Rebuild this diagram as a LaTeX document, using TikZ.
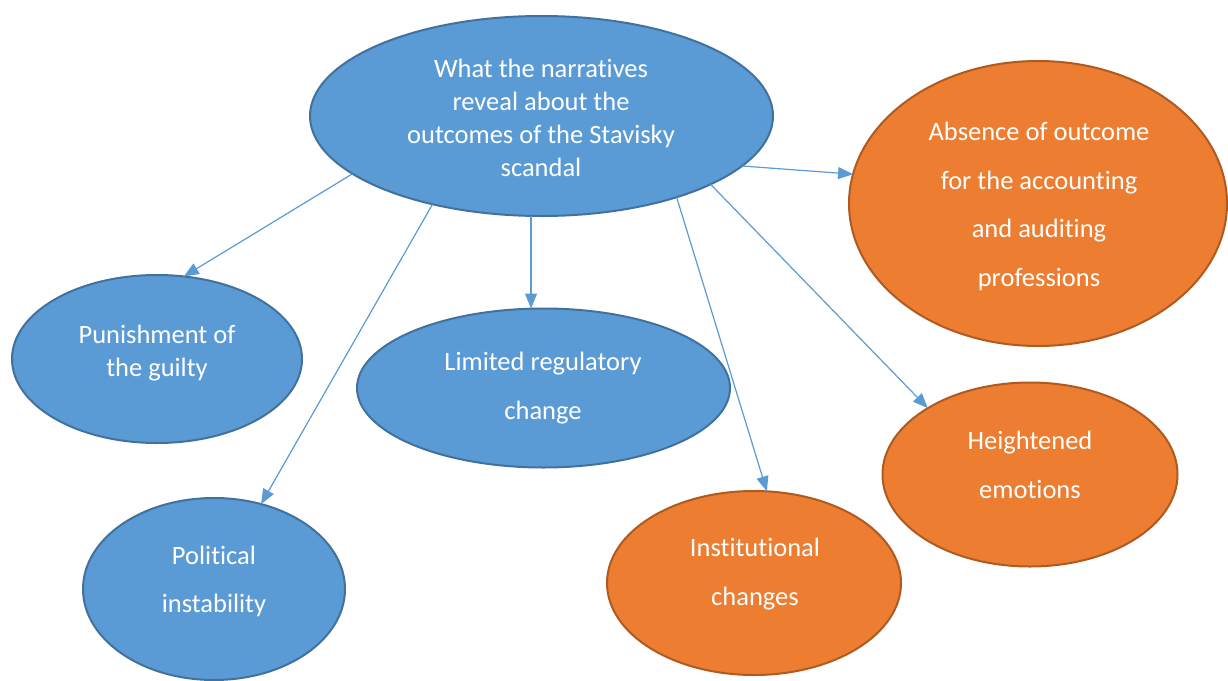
\documentclass[tikz,border=0pt]{standalone}
\usepackage{fontspec}
\setmainfont{Carlito}[Ligatures={NoCommon}]
\usetikzlibrary{shapes.geometric,arrows.meta}
\definecolor{bfill}{HTML}{5B9BD5}
\definecolor{bline}{HTML}{41719C}
\definecolor{ofill}{HTML}{ED7D31}
\definecolor{oline}{HTML}{AE5A21}
\definecolor{arr}{HTML}{5B9BD5}
\tikzset{
  ell/.style={ellipse, inner sep=0pt, outer sep=0pt, line width=2pt},
  blueell/.style={ell, fill=bfill, draw=bline},
  orangeell/.style={ell, fill=ofill, draw=oline},
  tighttxt/.style={text=white, align=center, inner sep=0pt, font=\fontsize{26.5}{33}\selectfont},
  widetxt/.style={text=white, align=center, inner sep=0pt, font=\fontsize{26.5}{48.5}\selectfont},
  conn/.style={draw=arr, line width=1.2pt, -{Triangle[length=15pt,width=12pt]}}
}
\begin{document}
\begin{tikzpicture}[x=1pt,y=-1pt]
\useasboundingbox (0,0) rectangle (1228,680);
% ellipses
\node[blueell, minimum width=463pt, minimum height=200pt] (top) at (541.5,116) {};
\node[blueell, minimum width=290pt, minimum height=168pt] (pun) at (157,359) {};
\node[blueell, minimum width=373pt, minimum height=159pt] (lim) at (543.5,388) {};
\node[blueell, minimum width=262pt, minimum height=182pt] (pol) at (214,589) {};
\node[orangeell, minimum width=294pt, minimum height=184pt] (ins) at (754,583) {};
\node[orangeell, minimum width=295pt, minimum height=184pt] (hei) at (1030,474.5) {};
\node[orangeell, minimum width=378pt, minimum height=285pt] (abs) at (1038,203.5) {};
% texts
\node[tighttxt] (toptxt) at (541,117.5) {What the narratives\\reveal about the\\outcomes of the Stavisky\\scandal};
\node[tighttxt] (puntxt) at (157,353) {Punishment of\\the guilty};
\node[widetxt] (limtxt) at (543,388) {Limited regulatory\\change};
\node[widetxt] (poltxt) at (214,581.5) {Political\\instability};
\node[widetxt] (instxt) at (755,574) {Institutional\\changes};
\node[widetxt] (heitxt) at (1030,465) {Heightened\\emotions};
\node[widetxt] (abstxt) at (1039,206.5) {Absence of outcome\\for the accounting\\and auditing\\professions};
% connectors
\draw[conn] (top.-163.07) -- (pun.72.8);
\draw[conn] (top.-141.2) -- (pol.61.7);
\draw[conn] (top.-96) -- (top.-96 |- lim.north);
\draw[conn] (top.-31.25) -- (ins.82.1);
\draw[conn] (top.-22.9) -- (hei.147.9);
\draw[conn] (top.-14.2) -- (abs.171.1);
\end{tikzpicture}
\end{document}
